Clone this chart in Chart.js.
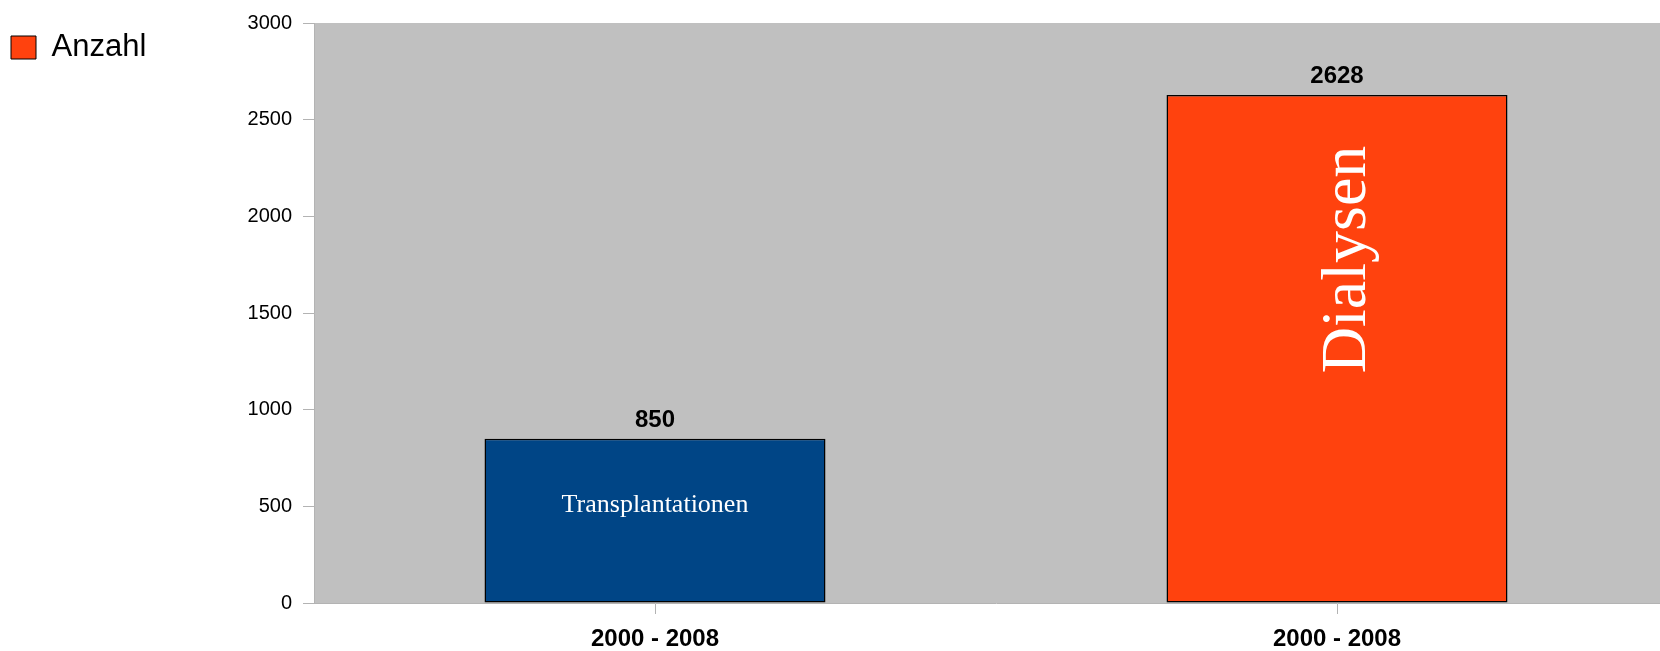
<!DOCTYPE html>
<html lang="de">
<head>
  <meta charset="UTF-8" />
  <title>Transplantationen und Dialysen 2000 - 2008</title>
  <script src="https://cdn.jsdelivr.net/npm/chart.js"></script>
  <style>
    body {
      margin: 0;
      overflow: hidden;
      background: #ffffff;
    }
    #box {
      width: 1678px;
      height: 651px;
    }
  </style>
</head>
<body>
  <div id="box">
    <canvas id="grafico" width="1678" height="651"></canvas>
  </div>
  <script>
    // Daten
    const zeitraum = ['2000 - 2008', '2000 - 2008'];
    const anzahl = [850, 2628];
    const bezeichnung = ['Transplantationen', 'Dialysen'];
    const farben = ['#004586', '#ff420e'];
    const reiheName = 'Anzahl';
    const yTicks = [0, 500, 1000, 1500, 2000, 2500, 3000];

    const sans = "'Liberation Sans', Arial, sans-serif";
    const serif = "'Liberation Serif', 'Times New Roman', serif";

    // grauer Hintergrund der Zeichenfläche
    const hintergrund = {
      id: 'hintergrund',
      beforeDraw(chart) {
        const a = chart.chartArea;
        const ctx = chart.ctx;
        ctx.save();
        ctx.fillStyle = '#c0c0c0';
        ctx.fillRect(a.left, a.top, a.right - a.left, a.bottom - a.top);
        ctx.restore();
      }
    };

    // Werte über den Balken und Namen in den Balken
    const beschriftung = {
      id: 'beschriftung',
      afterDatasetsDraw(chart) {
        const ctx = chart.ctx;
        const bars = chart.getDatasetMeta(0).data;
        ctx.save();
        bars.forEach((bar, i) => {
          ctx.fillStyle = '#000000';
          ctx.font = 'bold 24px ' + sans;
          ctx.textAlign = 'center';
          ctx.textBaseline = 'alphabetic';
          ctx.fillText(String(anzahl[i]), bar.x, bar.y - 12);

          ctx.fillStyle = '#ffffff';
          const h = bar.base - bar.y;
          if (i === 0) {
            ctx.font = '26px ' + serif;
            ctx.fillText(bezeichnung[i], bar.x, bar.y + h * 0.45);
          } else {
            ctx.save();
            ctx.translate(bar.x + 28, bar.y + h * 0.324);
            ctx.rotate(-Math.PI / 2);
            ctx.font = '64px ' + serif;
            ctx.fillText(bezeichnung[i], 0, 0);
            ctx.restore();
          }
        });
        ctx.restore();
      }
    };

    const ctx = document.getElementById('grafico').getContext('2d');
    new Chart(ctx, {
      type: 'bar',
      data: {
        labels: zeitraum,
        datasets: [{
          label: reiheName,
          data: anzahl,
          backgroundColor: farben,
          borderColor: '#000000',
          borderWidth: 1.5,
          borderSkipped: false,
          barPercentage: 0.5,
          categoryPercentage: 1.0
        }]
      },
      options: {
        responsive: false,
        animation: false,
        layout: {
          padding: { top: 22, left: 1, right: 0, bottom: 0 }
        },
        plugins: {
          tooltip: { enabled: false },
          legend: {
            position: 'left',
            align: 'start',
            labels: {
              boxWidth: 25,
              boxHeight: 23,
              padding: 10,
              color: '#000000',
              font: { family: sans, size: 31 },
              generateLabels: (chart) => [{
                text: reiheName,
                fillStyle: farben[1],
                strokeStyle: '#000000',
                lineWidth: 1,
                hidden: false,
                datasetIndex: 0
              }]
            }
          }
        },
        scales: {
          x: {
            grid: {
              offset: false,
              drawOnChartArea: false,
              drawTicks: true,
              tickLength: 11,
              color: '#b3b3b3'
            },
            border: { color: '#b3b3b3', width: 1 },
            ticks: {
              color: '#000000',
              padding: 11,
              maxRotation: 0,
              font: { family: sans, size: 24, weight: 'bold' }
            },
            afterFit: (axis) => { axis.height = 48; }
          },
          y: {
            min: 0,
            max: 3000,
            afterBuildTicks: (axis) => { axis.ticks = yTicks.map(v => ({ value: v })); },
            grid: {
              drawOnChartArea: false,
              drawTicks: true,
              tickLength: 11,
              color: '#b3b3b3'
            },
            border: { color: '#b3b3b3', width: 1 },
            ticks: {
              color: '#000000',
              padding: 11,
              font: { family: sans, size: 20 },
              callback: (v) => String(v)
            },
            afterFit: (axis) => {
              const lw = axis.chart.legend ? axis.chart.legend.width : 0;
              axis.width = 314 - 1 - lw;
            }
          }
        }
      },
      plugins: [hintergrund, beschriftung]
    });
  </script>
</body>
</html>
